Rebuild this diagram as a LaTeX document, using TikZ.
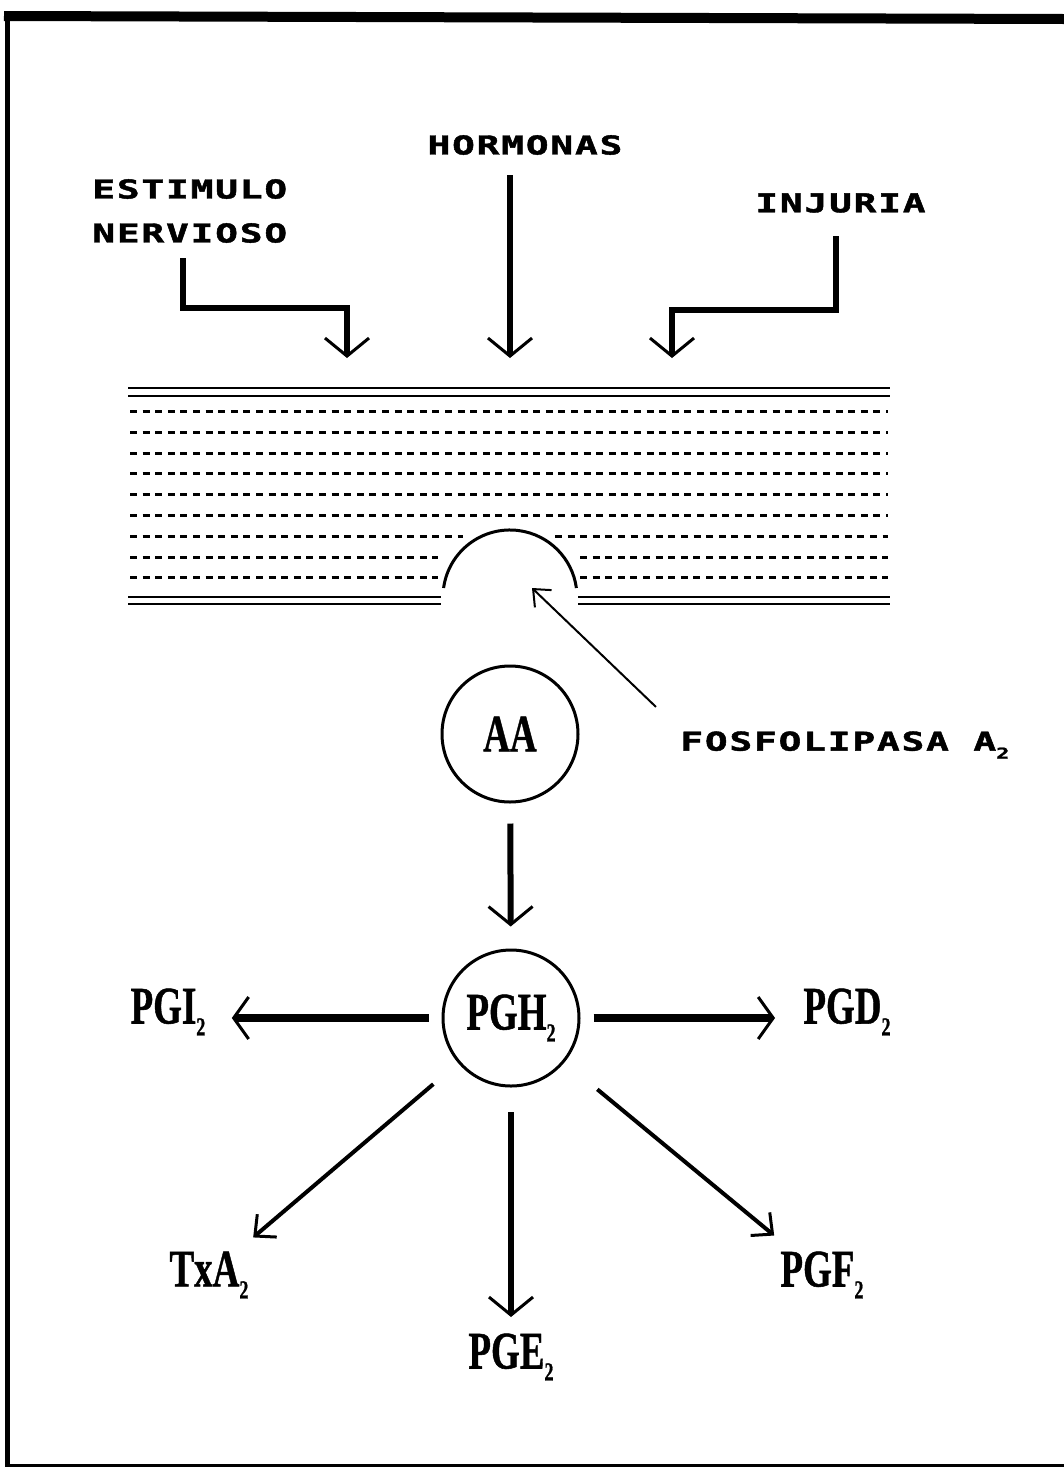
\documentclass[tikz,border=0pt]{standalone}
\usepackage{fontspec}
\usetikzlibrary{arrows.meta,positioning}
\newfontfamily\labfont[LetterSpace=5,BoldFont={DejaVu Sans Mono Bold},BoldFeatures={FakeBold=1.5}]{DejaVu Sans Mono}
\newfontfamily\bigfont[BoldFeatures={FakeBold=1}]{Liberation Serif}
\newcommand{\spaced}[1]{\scalebox{1.45}[1]{\labfont\bfseries\fontsize{13}{15}\selectfont #1}}
\newcommand{\molec}[1]{\scalebox{0.7}[1]{\bigfont\bfseries\fontsize{26.4}{30}\selectfont #1}}
\newcommand{\low}[1]{\raisebox{-6pt}{\fontsize{13}{13}\selectfont #1}}
\newcommand{\lowlab}[1]{\raisebox{-4pt}{\fontsize{7.5}{7.5}\selectfont #1}}
\begin{document}
\begin{tikzpicture}[x=0.5pt,y=-0.5pt,
    txt/.style={inner sep=0pt},
    mol/.style={circle,draw,line width=1.5pt,minimum size=68pt,inner sep=0pt},
    elbow/.style={line width=3pt,-{Straight Barb[length=9pt,width=22pt,line width=1.5pt]}},
    sidearrow/.style={line width=4pt,-{Straight Barb[length=7.5pt,width=21pt,line width=1.5pt]}},
    diagarrow/.style={line width=2pt,-{Straight Barb[length=8pt,width=15pt,line width=1.5pt]}},
    enzarrow/.style={line width=1pt,-{Straight Barb[length=7pt,width=12pt,line width=1pt]}},
    solidline/.style={line width=1.2pt},
    dashline/.style={line width=1.5pt,dash pattern=on 3.5pt off 2.8pt}]
\useasboundingbox (0,0) rectangle (1064,1468);

% marco
\draw[line width=5pt] (4,16) -- (1064,19);
\draw[line width=2.5pt] (7,14) -- (7,1466);
\draw[line width=1.5pt] (5,1465) -- (1064,1465);

% estimulos
\node[txt,anchor=west] (estimulo) at (92,189) {\spaced{ESTIMULO}};
\node[txt,anchor=west] (nervioso) at (92,233) {\spaced{NERVIOSO}};
\node[txt] (hormonas) at (525,145) {\spaced{HORMONAS}};
\node[txt,anchor=west] (injuria) at (755,203) {\spaced{INJURIA}};

\coordinate (s1) at (183,258);
\coordinate (s3) at (836,236);
\coordinate (in1) at (347,358);
\coordinate (in2) at (510,358);
\coordinate (in3) at (672,358);

\draw[elbow] (s1) -- ++(0,50) -| (in1);
\draw[elbow,shorten <=10pt] (hormonas.south -| in2) -- (in2);
\draw[elbow] (s3) -- ++(0,74) -| (in3);

% membrana
\draw[solidline] (128,388) -- (890,388);
\draw[solidline] (128,396) -- (890,396);
\foreach \y in {411.5,432.3,453.1,473.9,494.7,515.5}
  \draw[dashline] (130,\y) -- (888,\y);
\draw[dashline] (130,536.3) -- (463,536.3) (555,536.3) -- (888,536.3);
\foreach \y in {557.1,577.9}
  \draw[dashline] (130,\y) -- (438,\y) (580,\y) -- (888,\y);
\foreach \y in {597,604}
  \draw[solidline] (128,\y) -- (441,\y) (578,\y) -- (890,\y);
\draw[line width=1.5pt] (443.6,588) arc[start angle=187.7,end angle=352.3,radius=67];

% enzima
\node[txt,anchor=west] (fosfo) at (680,745) {\spaced{FOSFOLIPASA A\lowlab{2}}};
\coordinate (enz) at (532,588);
\draw[enzarrow] ([xshift=-12pt,yshift=12pt]fosfo.north west) -- (enz);

% cascada
\node[mol] (aa) at (510,734) {\molec{AA}};
\node[mol] (pgh) at (511,1018) {\molec{PGH\low{2}}};
\node[txt] (pgi) at (168,1012) {\molec{PGI\low{2}}};
\node[txt] (pgd) at (847,1012) {\molec{PGD\low{2}}};
\node[txt] (txa) at (209,1275) {\molec{TxA\low{2}}};
\node[txt] (pge) at (511,1357) {\molec{PGE\low{2}}};
\node[txt] (pgf) at (822,1275) {\molec{PGF\low{2}}};

\draw[elbow,shorten <=10pt,shorten >=11pt] (aa) -- (pgh);
\draw[sidearrow,shorten <=6.5pt,shorten >=13pt] (pgh.west) -- (pgh.west -| pgi.east);
\draw[sidearrow,shorten <=6.5pt,shorten >=14pt] (pgh.east) -- (pgh.east -| pgd.west);
\draw[diagarrow,shorten <=51pt,shorten >=29pt] (pgh.center) -- (txa.center);
\draw[elbow,shorten <=47pt,shorten >=20pt] (pgh.center) -- (pge.center);
\draw[diagarrow,shorten <=56pt,shorten >=31pt] (pgh.center) -- (pgf.center);
\end{tikzpicture}
\end{document}
